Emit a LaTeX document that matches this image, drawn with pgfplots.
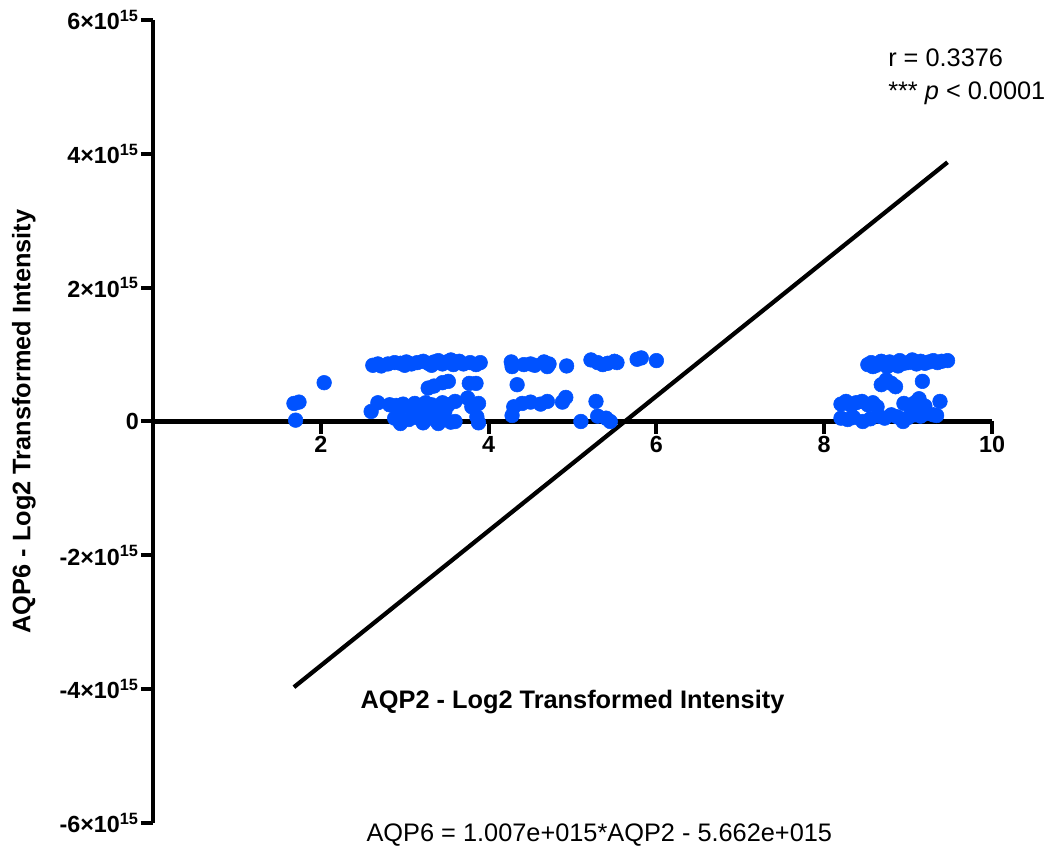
\documentclass[border=0pt]{standalone}
\usepackage{pgfplots}
\pgfplotsset{compat=1.18}
\usepackage{pgfplotstable}
\usepackage{fontspec}
\setmainfont{Liberation Sans}
\definecolor{dotblue}{RGB}{0,82,255}

\pgfplotstableread{
x y
2.62 8.4e14
2.68 8.6e14
2.72 8.3e14
2.80 8.6e14
2.88 8.8e14
2.95 8.7e14
3.00 8.4e14
3.02 8.9e14
3.08 8.6e14
3.15 8.8e14
3.22 9.0e14
3.28 8.7e14
3.32 8.4e14
3.35 8.9e14
3.40 9.1e14
3.45 8.6e14
3.50 8.9e14
3.55 9.2e14
3.58 8.5e14
3.60 8.8e14
3.65 9.0e14
3.70 8.6e14
3.78 8.8e14
3.85 8.5e14
3.90 8.8e14
4.27 8.9e14
4.28 8.2e14
4.42 8.5e14
4.50 8.6e14
4.55 8.4e14
4.66 8.9e14
4.72 8.6e14
4.70 8.2e14
4.93 8.3e14
5.22 9.2e14
5.30 8.8e14
5.36 8.5e14
5.42 8.7e14
5.50 9.0e14
5.53 8.8e14
5.77 9.3e14
5.82 9.5e14
6.00 9.1e14
2.04 5.8e14
3.28 5.0e14
3.35 5.3e14
3.45 5.8e14
3.52 6.0e14
3.77 5.7e14
3.85 5.7e14
4.34 5.5e14
1.68 2.7e14
1.74 2.9e14
2.60 1.5e14
2.68 2.8e14
2.82 2.5e14
2.90 2.4e14
2.98 2.6e14
3.05 2.2e14
3.12 2.7e14
3.20 2.3e14
3.25 2.8e14
3.32 2.5e14
3.40 2.2e14
3.45 2.8e14
3.52 2.5e14
3.60 3.0e14
3.15 1.8e14
3.35 1.5e14
3.48 1.6e14
3.75 3.5e14
3.80 2.2e14
3.88 2.7e14
4.30 2.2e14
4.40 2.7e14
4.50 2.9e14
4.62 2.6e14
4.70 3.0e14
4.88 2.9e14
4.92 3.6e14
5.28 3.0e14
1.70 0.2e14
2.88 0.5e14
2.95 -0.3e14
3.05 0.3e14
3.15 0.6e14
3.22 -0.2e14
3.30 0.5e14
3.40 -0.3e14
3.48 0.4e14
3.55 -0.1e14
3.60 0.0
2.92 1.0e14
3.10 1.2e14
3.28 1.0e14
3.45 1.1e14
3.86 0.7e14
3.88 -0.2e14
4.28 0.9e14
5.10 0.0
5.30 0.8e14
5.40 0.5e14
5.45 0.0
8.52 8.5e14
8.56 8.8e14
8.62 8.4e14
8.68 9.0e14
8.72 8.6e14
8.78 8.9e14
8.84 8.5e14
8.90 9.1e14
8.95 8.7e14
9.00 8.8e14
9.05 9.2e14
9.10 8.6e14
9.15 9.0e14
9.20 8.7e14
9.25 8.9e14
9.30 9.1e14
9.35 8.8e14
9.40 9.0e14
9.47 9.1e14
8.58 8.2e14
8.75 8.2e14
8.88 8.3e14
8.68 5.5e14
8.74 6.2e14
8.80 5.7e14
8.85 5.2e14
9.17 6.0e14
8.20 2.6e14
8.26 3.0e14
8.32 2.4e14
8.38 2.8e14
8.45 3.0e14
8.52 2.5e14
8.58 2.8e14
8.63 2.2e14
8.95 2.7e14
9.02 2.4e14
9.08 2.8e14
9.13 3.4e14
9.20 2.3e14
9.38 3.0e14
8.20 0.5e14
8.28 0.3e14
8.35 0.6e14
8.46 0.0
8.55 0.4e14
8.65 0.8e14
8.72 0.5e14
8.80 1.0e14
8.87 0.7e14
8.94 0.0
9.00 0.6e14
9.08 1.0e14
9.15 0.8e14
9.22 1.2e14
9.30 1.0e14
9.34 0.9e14
}\pointdata

\pgfplotstableread{
x y
1.68 -3.970e15
9.47 3.874e15
}\fitdata

\newcommand{\tlab}[1]{\textbf{#1×10\textsuperscript{15}}}

\begin{document}
\begin{tikzpicture}
\useasboundingbox (0pt,0pt) rectangle (786pt,640.5pt);
\begin{axis}[
  scale only axis,
  width=629.25pt, height=602.25pt,
  at={(114.75pt,23.25pt)}, anchor=south west,
  xmin=0, xmax=10, ymin=-6e15, ymax=6e15,
  axis x line=middle, axis y line=left,
  axis line style={line width=3.2pt, -},
  tick align=outside,
  major tick length=9pt,
  tick style={line width=3pt, black},
  xtick={2,4,6,8,10},
  xticklabels={\textbf{2},\textbf{4},\textbf{6},\textbf{8},\textbf{10}},
  ytick={-6e15,-4e15,-2e15,0,2e15,4e15,6e15},
  yticklabels={\tlab{-6},\tlab{-4},\tlab{-2},\textbf{0},\tlab{2},\tlab{4},\tlab{6}},
  scaled y ticks=false, scaled x ticks=false,
  /pgf/number format/assume math mode=true,
  tick label style={font=\bfseries\fontsize{17.5}{20}\selectfont},
  xticklabel style={inner sep=2pt},
  yticklabel style={inner sep=1.5pt},
  xlabel={AQP2 - Log2 Transformed Intensity},
  ylabel={AQP6 - Log2 Transformed Intensity},
  every axis x label/.style={at={(axis description cs:0.5,0.151)}, anchor=center, font=\bfseries\fontsize{19}{22}\selectfont},
  every axis y label/.style={at={(axis description cs:-0.154,0.5)}, rotate=90, anchor=center, font=\bfseries\fontsize{19}{22}\selectfont},
  clip=false,
]
\addplot[only marks, mark=*, mark size=5.5pt, mark options={draw=dotblue, fill=dotblue}] table[x=x, y=y] {\pointdata};
\addplot[black, line width=3.2pt, no marks] table[x=x, y=y] {\fitdata};
\node[font=\fontsize{19}{22}\selectfont, anchor=center] at (axis description cs:0.532,-0.015) {AQP6 = 1.007e+015*AQP2 - 5.662e+015};
\end{axis}
\node[anchor=west, font=\fontsize{19}{22}\selectfont, inner sep=0pt] at (666pt,597pt) {r = 0.3376};
\node[anchor=base west, font=\fontsize{19}{22}\selectfont, inner sep=0pt] at (666pt,566pt) {*** \textit{p} < 0.0001};
\end{tikzpicture}
\end{document}
